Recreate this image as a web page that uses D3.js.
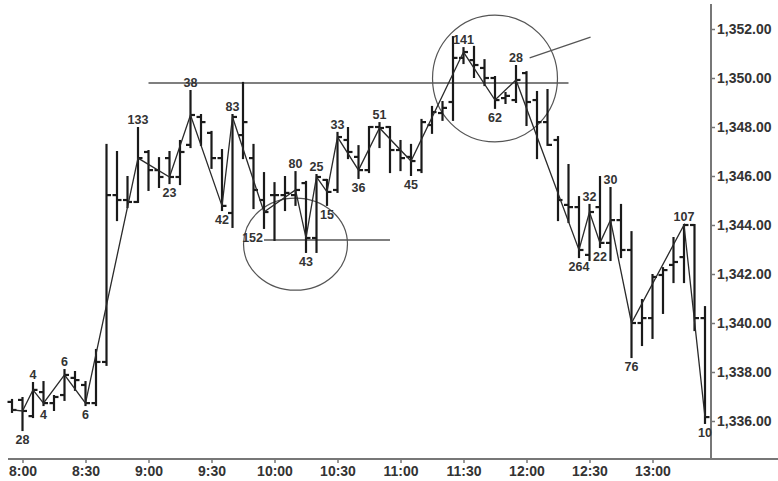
<!DOCTYPE html>
<html><head><meta charset="utf-8">
<script src="https://cdn.jsdelivr.net/npm/d3@7"></script>
<style>
html,body{margin:0;padding:0;background:#fff;}
svg{display:block;}
text{font-family:Arial,"Liberation Sans",sans-serif;font-weight:bold;fill:#333;}
</style></head><body>
<svg id="chart" width="778" height="481"></svg>
<script>
// ---- data ----
const firstBarTime = "7:55";
const barMinutes = 5;
const opens  = [1336.78,1336.86,1336.20,1337.18,1336.73,1337.06,1337.76,1337.47,1336.73,1338.41,
                1345.22,1345.02,1344.94,1346.98,1346.24,1346.73,1345.96,1347.27,1348.41,1347.76,
                1346.73,1344.49,1347.67,1346.73,1345.02,1345.22,1345.22,1345.22,1345.71,1343.47,
                1345.84,1345.43,1347.47,1346.78,1346.24,1348.00,1348.00,1347.06,1346.78,1346.24,
                1348.08,1348.57,1349.02,1350.82,1350.73,1350.41,1350.00,1349.18,1349.10,1350.20,
                1349.10,1348.20,1347.47,1344.82,1344.73,1342.78,1344.73,1343.27,1344.20,1342.98,
                1340.00,1340.20,1341.96,1342.37,1342.69,1344.00,1340.20];
const highs  = [1336.86,1336.94,1337.55,1337.59,1337.02,1338.08,1338.00,1337.59,1338.90,1347.27,
                1346.98,1345.96,1347.96,1347.02,1346.73,1346.98,1347.43,1349.47,1348.49,1347.80,
                1347.06,1348.49,1349.80,1347.27,1346.12,1345.71,1345.96,1346.16,1345.76,1346.04,
                1345.84,1347.76,1347.96,1347.22,1348.00,1348.16,1348.00,1347.43,1347.27,1348.29,
                1348.82,1349.02,1351.67,1351.22,1351.27,1350.73,1350.04,1349.39,1350.49,1350.24,
                1349.43,1349.51,1347.59,1346.45,1345.14,1344.82,1345.96,1345.51,1344.82,1343.71,
                1340.94,1341.96,1342.24,1343.47,1344.00,1344.00,1340.65];
const lows   = [1336.37,1335.63,1336.16,1336.65,1336.45,1336.86,1337.27,1336.65,1336.65,1338.29,
                1344.20,1344.73,1344.94,1345.43,1345.55,1345.71,1345.67,1347.18,1347.27,1346.33,
                1344.61,1343.92,1346.73,1344.69,1343.88,1343.39,1344.61,1344.82,1342.90,1342.90,
                1344.82,1345.35,1346.73,1345.92,1346.16,1347.18,1346.16,1346.24,1346.04,1346.16,
                1347.76,1348.29,1348.29,1350.61,1350.04,1349.71,1348.78,1348.98,1349.02,1348.08,
                1346.73,1347.27,1344.20,1344.12,1342.69,1342.57,1343.10,1342.57,1342.69,1338.61,
                1339.10,1339.39,1340.41,1341.67,1341.67,1339.71,1335.92];
const closes = [1336.45,1336.41,1337.27,1336.73,1336.98,1337.88,1337.67,1336.73,1338.41,1345.22,
                1345.02,1344.94,1346.73,1346.24,1345.96,1345.96,1346.98,1348.49,1348.20,1346.73,
                1344.78,1348.41,1348.20,1345.43,1344.53,1345.22,1345.31,1345.43,1343.47,1345.96,
                1345.35,1347.59,1346.98,1346.24,1348.00,1347.96,1347.06,1346.73,1346.61,1348.20,
                1348.61,1348.78,1350.82,1351.06,1350.53,1350.00,1349.10,1349.27,1349.92,1349.02,
                1348.20,1347.27,1345.02,1344.73,1342.98,1344.53,1343.27,1344.20,1342.98,1340.00,
                1340.20,1341.88,1342.16,1342.49,1344.00,1340.20,1336.16];
// swing points (bar index), their labels, and whether they are highs or lows
const swingBars   = [0, 1, 2, 3, 5, 7, 12, 15, 17, 20, 21, 24, 27, 28, 29, 30, 31, 33, 35, 38, 43, 46, 48, 54, 55, 56, 57, 59, 64, 66];
const swingLabels = ["", "28","4","4","6","6","133","23","38","42","83","152","80","43","25","15","33","36","51","45","141","62","28","264","32","22","30","76","107","10"];
const swingSides  = ["L","L","H","L","H","L","H","L","H","L","H","LL","H","L","H","L","H","L","H","L","H","L","H","L","H","L","H","L","H","L"];
// annotations
const levelLines = [{fromBar: 13, toBar: 53, price: 1349.80}, {fromBar: 24, toBar: 36, price: 1343.39}];
const ellipses   = [{bar: 27, price: 1343.22, rxBars: 4.95, ryPts: 1.88}, {bar: 46, price: 1349.98, rxBars: 5.95, ryPts: 2.59}];
const pointer    = {fromBar: 49.3, fromPrice: 1350.82, toBar: 55.1, toPrice: 1351.67};
const xTickLabels = ["8:00","8:30","9:00","9:30","10:00","10:30","11:00","11:30","12:00","12:30","13:00"];
const yTickValues = [1336, 1338, 1340, 1342, 1344, 1346, 1348, 1350, 1352];

// ---- chart ----
const W = 778, H = 481;
const svg = d3.select("#chart");
const parse = d3.timeParse("%H:%M");
const t0 = parse(firstBarTime);
const barTime = i => new Date(t0.getTime() + i * barMinutes * 60000);
const nBars = closes.length;

const x = d3.scaleTime().domain([barTime(0), barTime(nBars - 1)]).range([12, 705]);
const y = d3.scaleLinear().domain([1336, 1352]).range([421, 29]);
const xb = i => x(barTime(i));

const axisY = 459, axisX = 711;
const ink = "#1a1a1a";

// frame lines
svg.append("line").attr("x1", 8).attr("x2", W).attr("y1", axisY).attr("y2", axisY)
  .attr("stroke", "#777").attr("stroke-width", 2);
svg.append("line").attr("x1", axisX).attr("x2", axisX).attr("y1", 4).attr("y2", axisY)
  .attr("stroke", "#777").attr("stroke-width", 2);

// x axis
const xAxis = d3.axisBottom(x)
  .tickValues(xTickLabels.map(s => parse(s)))
  .tickFormat((d, i) => xTickLabels[i])
  .tickSize(4).tickPadding(3);
const gx = svg.append("g").attr("transform", `translate(0,${axisY})`).call(xAxis);
gx.select(".domain").remove();
gx.selectAll(".tick line").attr("stroke", "#777").attr("stroke-width", 1.5);
gx.selectAll(".tick text").attr("font-size", 14).attr("fill", "#333")
  .attr("font-family", "Arial, 'Liberation Sans', sans-serif").attr("font-weight", "bold");

// y axis
const yAxis = d3.axisRight(y).tickValues(yTickValues).tickFormat(d3.format(",.2f")).tickSize(4).tickPadding(2);
const gy = svg.append("g").attr("transform", `translate(${axisX},0)`).call(yAxis);
gy.select(".domain").remove();
gy.selectAll(".tick line").attr("stroke", "#777").attr("stroke-width", 1.5);
gy.selectAll(".tick text").attr("font-size", 14).attr("fill", "#333")
  .attr("font-family", "Arial, 'Liberation Sans', sans-serif").attr("font-weight", "bold");

// annotation: level lines
svg.append("g").selectAll("line").data(levelLines).join("line")
  .attr("x1", d => xb(d.fromBar)).attr("x2", d => xb(d.toBar))
  .attr("y1", d => y(d.price)).attr("y2", d => y(d.price))
  .attr("stroke", "#555").attr("stroke-width", 1.5);

// annotation: ellipses
svg.append("g").selectAll("ellipse").data(ellipses).join("ellipse")
  .attr("cx", d => xb(d.bar)).attr("cy", d => y(d.price))
  .attr("rx", d => xb(d.bar + d.rxBars) - xb(d.bar))
  .attr("ry", d => y(d.price - d.ryPts) - y(d.price))
  .attr("fill", "none").attr("stroke", "#555").attr("stroke-width", 1.2);

// pointer line
svg.append("line")
  .attr("x1", xb(pointer.fromBar)).attr("y1", y(pointer.fromPrice))
  .attr("x2", xb(pointer.toBar)).attr("y2", y(pointer.toPrice))
  .attr("stroke", "#555").attr("stroke-width", 1.2);

// OHLC bars
const bars = d3.range(nBars).map(i => ({i, o: opens[i], h: highs[i], l: lows[i], c: closes[i]}));
const gb = svg.append("g").attr("stroke", ink).attr("stroke-width", 2.2);
gb.selectAll("line.hl").data(bars).join("line").attr("class", "hl")
  .attr("x1", d => xb(d.i)).attr("x2", d => xb(d.i))
  .attr("y1", d => y(d.h) - 1).attr("y2", d => y(d.l) + 1);
gb.selectAll("line.op").data(bars).join("line").attr("class", "op")
  .attr("x1", d => xb(d.i) - 4.5).attr("x2", d => xb(d.i))
  .attr("y1", d => y(d.o)).attr("y2", d => y(d.o));
gb.selectAll("line.cl").data(bars).join("line").attr("class", "cl")
  .attr("x1", d => xb(d.i)).attr("x2", d => xb(d.i) + 4.5)
  .attr("y1", d => y(d.c)).attr("y2", d => y(d.c));

// zigzag on closes
const zz = d3.line().x(i => xb(i)).y(i => y(closes[i]));
svg.append("path").attr("d", zz(swingBars))
  .attr("fill", "none").attr("stroke", "#2a2a2a").attr("stroke-width", 1.3);

// swing labels
svg.append("g").selectAll("text").data(swingBars.map((b, k) => ({b, t: swingLabels[k], s: swingSides[k]})).filter(d => d.t))
  .join("text")
  .attr("font-size", 12.5)
  .attr("text-anchor", d => d.s === "LL" ? "end" : "middle")
  .attr("x", d => d.s === "LL" ? xb(d.b) - 1 : xb(d.b))
  .attr("y", d => d.s === "H" ? y(highs[d.b]) - 4 : y(lows[d.b]) + 14)
  .text(d => d.t);
</script>
</body></html>
